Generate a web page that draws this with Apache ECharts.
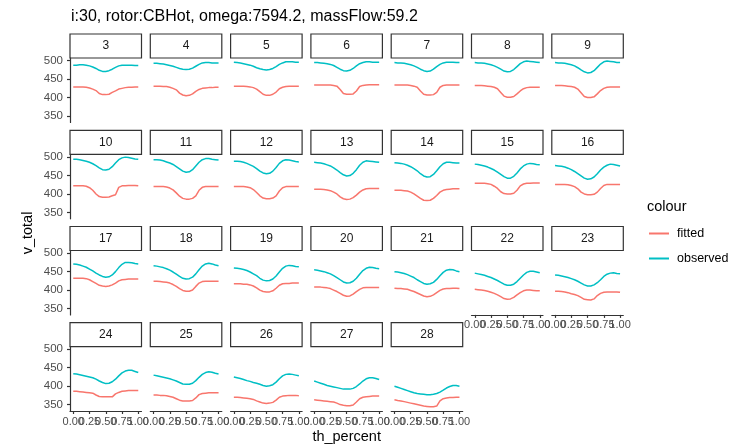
<!DOCTYPE html>
<html>
<head>
<meta charset="utf-8">
<script src="https://cdn.jsdelivr.net/npm/echarts@6/dist/echarts.min.js"></script>
<style>
  html, body { margin: 0; padding: 0; background: #ffffff; }
  #chart { width: 742px; height: 448px; }
</style>
</head>
<body>
<div id="chart"></div>
<script>
// th_percent sample positions shared by every panel
const thPercent = [0, 0.05, 0.1, 0.15, 0.2, 0.25, 0.3, 0.35, 0.4, 0.45, 0.5,
                   0.55, 0.6, 0.65, 0.7, 0.75, 0.8, 0.85, 0.9, 0.95, 1];

const panelIds = [3, 4, 5, 6, 7, 8, 9, 10, 11, 12, 13, 14, 15, 16, 17, 18, 19, 20,
                  21, 22, 23, 24, 25, 26, 27, 28];

const xTicks = [0, 0.25, 0.5, 0.75, 1];
const yTicks = [350, 400, 450, 500];
const seriesNames = ['fitted', 'observed'];

// v_total, observed
const obs3  = [488,488,489,489,488,486,483,479,474,471,471,473,477,482,486,488,488,488,488,487,487];
const obs4  = [493,493,492,491,489,487,485,482,479,477,476,477,480,485,490,494,495,495,494,494,494];
const obs5  = [496,495,494,492,490,488,485,481,478,476,475,476,479,484,490,494,497,497,497,496,496];
const obs6  = [495,495,494,493,492,490,487,482,477,473,472,474,479,486,492,495,497,497,496,496,496];
const obs7  = [495,494,494,493,491,489,486,482,477,473,471,472,477,484,490,494,496,496,496,495,495];
const obs8  = [495,494,494,493,491,489,486,482,477,472,470,471,476,484,492,497,499,498,497,496,495];
const obs9  = [495,494,494,493,491,489,486,481,475,470,467,468,473,482,491,497,499,498,497,495,495];
const obs10 = [494,494,493,491,489,486,482,477,471,466,465,467,474,484,493,498,500,499,497,495,494];
const obs11 = [493,493,492,490,487,484,480,474,468,462,459,460,466,476,486,493,496,496,494,493,492];
const obs12 = [489,489,488,486,483,479,475,469,462,457,455,456,462,472,483,490,493,492,490,488,487];
const obs13 = [486,485,484,482,479,476,471,465,458,452,449,450,456,466,478,486,490,489,488,487,486];
const obs14 = [485,484,483,481,478,474,469,463,455,449,446,447,453,463,474,482,486,486,485,484,484];
const obs15 = [481,480,478,476,473,469,465,459,453,447,443,443,448,457,468,476,481,483,482,480,479];
const obs16 = [477,476,475,473,470,466,461,455,449,443,440,441,446,455,465,473,478,481,480,478,476];
const obs17 = [471,470,468,465,462,457,452,446,441,437,435,436,441,450,461,470,475,475,474,472,471];
const obs18 = [466,465,463,461,458,454,449,443,437,432,430,431,435,444,455,465,471,473,471,468,466];
const obs19 = [460,459,458,456,453,449,444,439,432,427,425,426,430,438,449,459,465,467,466,464,463];
const obs20 = [455,454,452,450,447,444,439,434,428,422,419,420,424,432,443,453,459,462,461,459,458];
const obs21 = [450,449,447,445,442,438,434,428,423,418,416,417,421,429,439,448,454,456,455,452,450];
const obs22 = [446,444,442,440,437,434,430,426,421,416,413,413,416,423,432,441,448,451,451,449,447];
const obs23 = [441,440,438,436,434,431,428,424,419,414,411,411,414,420,428,437,443,446,447,445,444];
const obs24 = [434,433,431,429,427,425,423,419,414,410,407,408,412,419,428,436,441,443,443,440,437];
const obs25 = [430,428,426,424,422,420,417,414,410,406,405,405,408,415,424,432,437,439,438,435,433];
const obs26 = [425,423,421,418,415,413,410,408,405,402,400,401,404,411,420,428,432,433,432,430,428];
const obs27 = [414,411,408,405,402,400,398,396,394,392,392,392,394,399,406,414,420,423,423,421,418];
const obs28 = [400,397,394,391,388,385,382,380,379,378,377,377,378,380,384,389,395,399,402,402,400];

// v_total, fitted
const fit3  = [429,429,429,429,428,426,423,419,411,408,408,409,414,418,423,425,427,428,428,429,429];
const fit4  = [431,431,431,430,430,428,425,421,412,407,405,406,410,417,422,425,426,427,427,428,428];
const fit5  = [431,431,431,431,430,429,427,423,416,409,406,406,409,415,424,428,430,431,431,431,431];
const fit6  = [434,434,434,434,434,434,433,431,422,411,409,409,410,418,430,433,434,435,435,435,435];
const fit7  = [434,434,434,434,434,433,431,428,418,409,407,407,408,414,428,433,434,434,434,434,434];
const fit8  = [433,433,433,432,431,430,428,424,414,404,401,401,403,410,418,424,427,428,428,428,428];
const fit9  = [433,433,433,432,431,430,428,423,413,403,400,400,402,410,419,425,428,429,429,429,429];
const fit10 = [422,422,422,422,421,417,410,400,393,391,391,392,395,398,418,422,422,423,423,423,422];
const fit11 = [420,420,420,420,419,416,411,403,394,388,386,386,388,395,410,418,420,420,420,420,420];
const fit12 = [420,420,420,420,419,417,412,404,395,389,387,387,389,395,408,417,420,420,420,420,420];
const fit13 = [413,413,413,412,411,409,405,400,392,387,385,386,390,397,405,411,414,415,415,415,415];
const fit14 = [410,410,410,409,408,405,400,394,388,383,382,383,388,396,405,410,412,413,414,414,414];
const fit15 = [429,429,429,429,428,426,421,415,406,401,400,400,402,410,422,427,429,429,430,430,430];
const fit16 = [426,426,426,426,425,423,420,414,405,400,398,398,399,405,415,423,426,426,426,426,426];
const fit17 = [432,432,432,432,431,428,423,418,413,411,410,411,414,419,425,428,429,430,430,430,430];
const fit18 = [424,424,423,422,421,419,415,410,404,399,397,397,400,410,419,423,424,424,424,424,424];
const fit19 = [417,417,417,416,416,414,411,406,400,396,395,395,398,405,413,417,418,418,419,419,419];
const fit20 = [408,408,408,407,406,404,400,396,391,386,383,384,389,396,402,406,407,407,407,407,407];
const fit21 = [405,404,404,403,402,399,396,392,388,384,382,383,387,393,399,403,404,404,405,405,404];
const fit22 = [402,401,400,399,397,394,391,387,382,377,375,376,380,387,393,398,400,400,399,398,398];
const fit23 = [397,397,396,395,393,390,388,385,380,375,374,373,376,385,391,394,395,395,395,395,394];
const fit24 = [386,386,385,384,383,382,381,376,372,371,371,371,371,379,383,386,387,388,388,388,388];
const fit25 = [376,376,375,375,374,372,370,366,362,360,360,360,361,368,377,380,381,382,382,382,382];
const fit26 = [370,370,369,368,367,366,364,360,357,354,353,354,356,362,370,373,374,375,375,375,374];
const fit27 = [363,362,361,360,359,358,357,354,350,348,347,347,349,357,366,370,371,372,373,373,373];
const fit28 = [363,361,360,358,356,354,352,350,348,346,345,344,344,346,360,366,368,369,369,370,370];

const observedSets = [obs3, obs4, obs5, obs6, obs7, obs8, obs9, obs10, obs11, obs12, obs13,
  obs14, obs15, obs16, obs17, obs18, obs19, obs20, obs21, obs22, obs23, obs24, obs25, obs26,
  obs27, obs28];
const fittedSets = [fit3, fit4, fit5, fit6, fit7, fit8, fit9, fit10, fit11, fit12, fit13,
  fit14, fit15, fit16, fit17, fit18, fit19, fit20, fit21, fit22, fit23, fit24, fit25, fit26,
  fit27, fit28];

// facet layout (pixels)
const NCOL = 7;
const colLeft0 = 70, colStep = 80.3, panelW = 71.5;
const rowTops = [58, 154.4, 250.5, 346.6];
const panelH = 64.4;
const stripH = 24;
const X_MIN = -0.05, X_MAX = 1.05;
const Y_MIN = 332.6, Y_MAX = 507.4;
const FONT = '"Liberation Sans", Arial, Helvetica, sans-serif';
const FITTED_COLOR = '#F8766D';
const OBSERVED_COLOR = '#00BFC4';
const AXIS_COLOR = '#333333';
const TICK_TEXT = '#4D4D4D';

const grids = [], xAxes = [], yAxes = [], series = [], graphics = [];
const bottomPanels = [];

panelIds.forEach(function (id, k) {
  const row = Math.floor(k / NCOL), col = k % NCOL;
  const left = colLeft0 + col * colStep;
  const top = rowTops[row];
  const showX = (k + NCOL) >= panelIds.length;
  const showY = col === 0;
  if (showX) bottomPanels.push(k);

  grids.push({ left: left, top: top, width: panelW, height: panelH,
               outerBoundsMode: 'none', containLabel: false });

  xAxes.push({
    gridIndex: k, type: 'value', min: X_MIN, max: X_MAX,
    axisLine: { show: showX, onZero: false, lineStyle: { color: AXIS_COLOR, width: 1.2 } },
    axisTick: { show: showX, length: 3, customValues: xTicks,
                lineStyle: { color: AXIS_COLOR, width: 1.2 } },
    // tick texts are laid out below so that neighbouring labels may overlap
    axisLabel: { show: false },
    splitLine: { show: false }
  });

  yAxes.push({
    gridIndex: k, type: 'value', min: Y_MIN, max: Y_MAX,
    axisLine: { show: showY, onZero: false, lineStyle: { color: AXIS_COLOR, width: 1.2 } },
    axisTick: { show: showY, length: 3, customValues: yTicks,
                lineStyle: { color: AXIS_COLOR, width: 1.2 } },
    axisLabel: { show: showY, customValues: yTicks, margin: 7, fontSize: 11.5,
                 color: TICK_TEXT, fontFamily: FONT,
                 showMinLabel: true, showMaxLabel: true },
    splitLine: { show: false }
  });

  series.push({
    name: 'fitted', type: 'line', xAxisIndex: k, yAxisIndex: k,
    data: thPercent.map(function (x, i) { return [x, fittedSets[k][i]]; }),
    showSymbol: false, lineStyle: { color: FITTED_COLOR, width: 1.5 },
    itemStyle: { color: FITTED_COLOR }, silent: true
  });
  series.push({
    name: 'observed', type: 'line', xAxisIndex: k, yAxisIndex: k,
    data: thPercent.map(function (x, i) { return [x, observedSets[k][i]]; }),
    showSymbol: false, lineStyle: { color: OBSERVED_COLOR, width: 1.5 },
    itemStyle: { color: OBSERVED_COLOR }, silent: true
  });

  // facet strip
  graphics.push({
    type: 'rect', silent: true,
    shape: { x: left, y: top - stripH, width: panelW, height: stripH },
    style: { fill: '#ffffff', stroke: AXIS_COLOR, lineWidth: 1.2 }
  });
  graphics.push({
    type: 'text', silent: true,
    x: left + panelW / 2, y: top - stripH / 2,
    style: { text: String(id), fill: '#1A1A1A', font: '12px ' + FONT,
             align: 'center', verticalAlign: 'middle' }
  });
});

// axis titles and legend title
graphics.push({
  type: 'text', silent: true, x: 28, y: 233, rotation: Math.PI / 2,
  style: { text: 'v_total', fill: '#000000', font: '14.5px ' + FONT,
           align: 'center', verticalAlign: 'middle' }
});
graphics.push({
  type: 'text', silent: true, x: colLeft0 + (6 * colStep + panelW) / 2, y: 437,
  style: { text: 'th_percent', fill: '#000000', font: '14.5px ' + FONT,
           align: 'center', verticalAlign: 'middle' }
});
graphics.push({
  type: 'text', silent: true, x: 647, y: 207,
  style: { text: 'colour', fill: '#000000', font: '14.5px ' + FONT,
           align: 'left', verticalAlign: 'middle' }
});

const chart = echarts.init(document.getElementById('chart'), null, { renderer: 'canvas' });
chart.setOption({
  animation: false,
  backgroundColor: '#ffffff',
  title: {
    text: 'i:30, rotor:CBHot, omega:7594.2, massFlow:59.2',
    left: 66, top: 4,
    textStyle: { fontSize: 16, fontWeight: 'normal', color: '#000000', fontFamily: FONT }
  },
  legend: {
    data: seriesNames, orient: 'vertical', left: 649, top: 226, padding: 0,
    itemWidth: 20, itemHeight: 2, itemGap: 10, icon: 'rect',
    textStyle: { fontSize: 12.5, color: '#000000', fontFamily: FONT, lineHeight: 15,
                 padding: [0, 0, 0, 3] }
  },
  grid: grids,
  xAxis: xAxes,
  yAxis: yAxes,
  series: series,
  graphic: graphics
});

// x tick texts under the bottom panel of each column, placed through the axis scales
const tickTexts = [];
bottomPanels.forEach(function (k) {
  xTicks.forEach(function (v) {
    const p = chart.convertToPixel({ gridIndex: k }, [v, Y_MIN]);
    tickTexts.push({
      type: 'text', silent: true, x: p[0], y: p[1] + 10.5,
      style: { text: v.toFixed(2), fill: TICK_TEXT, font: '11px ' + FONT,
               align: 'center', verticalAlign: 'middle' }
    });
  });
});
chart.setOption({ graphic: graphics.concat(tickTexts) });
</script>
</body>
</html>
